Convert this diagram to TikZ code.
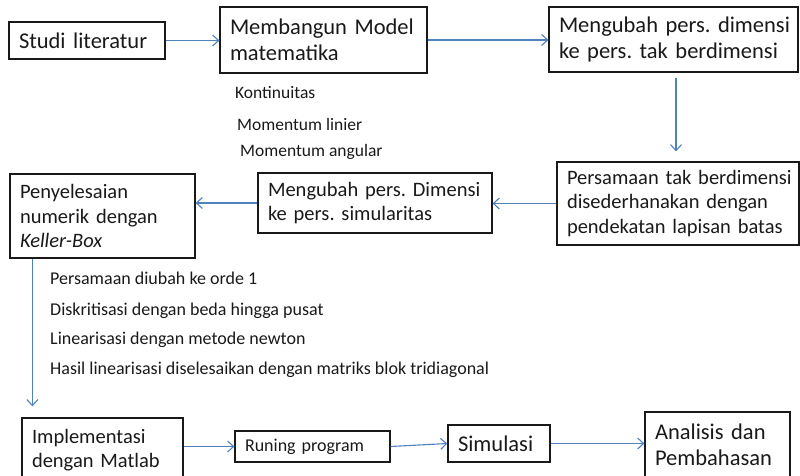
\documentclass[tikz,border=0pt]{standalone}
\usepackage{fontspec}
\setmainfont{Carlito}
\usetikzlibrary{arrows.meta}
\definecolor{arrowblue}{RGB}{79,129,189}
\definecolor{inkc}{RGB}{25,25,25}
\frenchspacing
\begin{document}
\begin{tikzpicture}[x=1pt,y=-1pt,
  box/.style={draw=inkc, line width=1.2pt, align=left, inner xsep=10pt, inner ysep=0pt, text=inkc},
  bigtxt/.style={font=\fontsize{22.5}{26}\selectfont},
  midtxt/.style={font=\fontsize{20.5}{24.5}\selectfont},
  note/.style={anchor=west, inner sep=0pt, font=\fontsize{17.5}{20}\selectfont, text=inkc},
  listnote/.style={note, font=\fontsize{18}{20}\selectfont},
  arr/.style={draw=arrowblue, line width=1.1pt, -{Straight Barb[length=6pt,width=11pt]}}]
\useasboundingbox (0,0) rectangle (800,476);
\clip (0,0) rectangle (800,476);
% top row
\node[box, bigtxt, text width=136pt, minimum height=37pt] (studi) at (87,40.5) {\mbox{Studi literatur}};
\node[box, bigtxt, text width=187pt, minimum height=66pt] (memb) at (323.5,40) {\mbox{Membangun Model}\\\mbox{matematika}};
\node[box, bigtxt, text width=229pt, minimum height=65pt] (dim) at (673.5,39.5) {\mbox{Mengubah pers. dimensi}\\\mbox{ke pers. tak berdimensi}};
\node[note] (n1) at (235,93) {Kontinuitas};
\node[note] (n2) at (237,124) {Momentum linier};
\node[note] (n3) at (240,152) {Momentum angular};
% middle row
\node[box, midtxt, text width=222pt, minimum height=83pt] (tak) at (678,203.5) {\mbox{Persamaan tak berdimensi}\\\mbox{disederhanakan dengan}\\\mbox{pendekatan lapisan batas}};
\node[box, midtxt, text width=214pt, minimum height=60pt] (sim) at (375,203) {\mbox{Mengubah pers. Dimensi}\\\mbox{ke pers. simularitas}};
\node[box, midtxt, text width=165pt, minimum height=84pt] (kb) at (102.5,216) {\mbox{Penyelesaian}\\\mbox{numerik dengan}\\\mbox{\itshape Keller-Box}};
\node[listnote] (l1) at (50,278) {Persamaan diubah ke orde 1};
\node[listnote] (l2) at (50,311) {Diskritisasi dengan beda hingga pusat};
\node[listnote] (l3) at (50,340) {Linearisasi dengan metode newton};
\node[listnote] (l4) at (50,370) {Hasil linearisasi diselesaikan dengan matriks blok tridiagonal};
% bottom row
\node[box, midtxt, text width=141pt, minimum height=64pt] (impl) at (102.5,450) {\mbox{Implementasi}\\\mbox{dengan Matlab}};
\node[box, font=\fontsize{18}{21}\selectfont, text width=135pt, minimum height=31pt] (run) at (312.5,446.5) {\mbox{Runing program}};
\node[box, bigtxt, text width=82pt, minimum height=37pt] (simu) at (499,443.5) {\mbox{Simulasi}};
\node[box, bigtxt, text width=125pt, minimum height=66pt] (ana) at (717.5,445) {\mbox{Analisis dan}\\\mbox{Pembahasan}};
% connectors
\draw[arr] (studi.east) -- (studi.east -| memb.west);
\draw[arr] (memb.east) -- (memb.east -| dim.west);
\draw[arr, shorten <=5pt, shorten >=10pt] ([xshift=2.5pt]dim.south) -- ([xshift=2.5pt]dim.south |- tak.north);
\draw[arr] (tak.west) -- (tak.west -| sim.east);
\draw[arr] (sim.west) -- (sim.west -| kb.east);
\draw[arr, shorten >=11pt] ([xshift=23pt]kb.south west) -- ([xshift=23pt]kb.south west |- impl.north);
\draw[arr] (run.west -| impl.east) -- (run.west);
\draw[arr] (run.east) -- (simu.west);
\draw[arr] (simu.east) -- (simu.east -| ana.west);
\end{tikzpicture}
\end{document}
